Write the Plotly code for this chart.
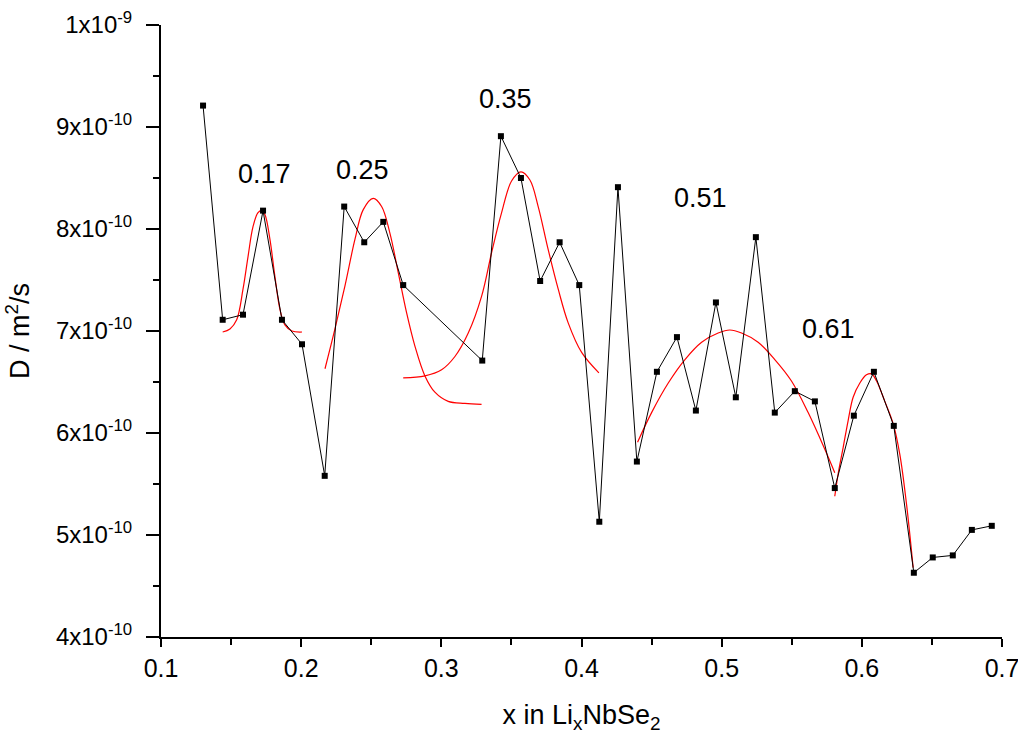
import plotly.graph_objects as go

# Measured diffusion coefficient data
x_data = [0.1300, 0.1440, 0.1585, 0.1728, 0.1863, 0.2006, 0.2168, 0.2307, 0.2450, 0.2586,
          0.2728, 0.3292, 0.3425, 0.3568, 0.3705, 0.3844, 0.3984, 0.4127, 0.4260, 0.4395,
          0.4538, 0.4681, 0.4816, 0.4959, 0.5101, 0.5244, 0.5379, 0.5522, 0.5665, 0.5807,
          0.5943, 0.6086, 0.6228, 0.6371, 0.6506, 0.6649, 0.6785, 0.6927]
d_data = [9.21e-10, 7.11e-10, 7.16e-10, 8.18e-10, 7.11e-10, 6.87e-10, 5.58e-10, 8.22e-10, 7.87e-10, 8.07e-10,
          7.45e-10, 6.71e-10, 8.91e-10, 8.50e-10, 7.49e-10, 7.87e-10, 7.45e-10, 5.13e-10, 8.41e-10, 5.72e-10,
          6.60e-10, 6.94e-10, 6.22e-10, 7.28e-10, 6.35e-10, 7.92e-10, 6.20e-10, 6.41e-10, 6.31e-10, 5.46e-10,
          6.17e-10, 6.60e-10, 6.07e-10, 4.63e-10, 4.78e-10, 4.80e-10, 5.05e-10, 5.09e-10]

# Fitted peak curves
fit017_x = [0.1440, 0.1492, 0.1540, 0.1585, 0.1621, 0.1656, 0.1692, 0.1718, 0.1742, 0.1777,
            0.1813, 0.1849, 0.1884, 0.1934, 0.2006]
fit017_y = [6.99e-10, 7.02e-10, 7.11e-10, 7.41e-10, 7.73e-10, 8.02e-10, 8.16e-10, 8.18e-10, 8.14e-10, 7.90e-10,
            7.53e-10, 7.21e-10, 7.06e-10, 7.00e-10, 6.99e-10]

fit025_x = [0.2170, 0.2241, 0.2312, 0.2384, 0.2443, 0.2514, 0.2574, 0.2633, 0.2693, 0.2752,
            0.2812, 0.2883, 0.2954, 0.3049, 0.3168, 0.3287]
fit025_y = [6.63e-10, 7.02e-10, 7.44e-10, 7.90e-10, 8.19e-10, 8.30e-10, 8.22e-10, 7.96e-10, 7.57e-10, 7.18e-10,
            6.85e-10, 6.56e-10, 6.40e-10, 6.31e-10, 6.29e-10, 6.28e-10]

fit035_x = [0.2728, 0.2883, 0.3002, 0.3097, 0.3192, 0.3287, 0.3359, 0.3430, 0.3501, 0.3568,
            0.3632, 0.3691, 0.3762, 0.3834, 0.3905, 0.4001, 0.4124]
fit035_y = [6.54e-10, 6.56e-10, 6.62e-10, 6.75e-10, 6.98e-10, 7.34e-10, 7.77e-10, 8.16e-10, 8.47e-10, 8.56e-10,
            8.48e-10, 8.22e-10, 7.80e-10, 7.41e-10, 7.08e-10, 6.79e-10, 6.59e-10]

fit051_x = [0.4400, 0.4500, 0.4619, 0.4738, 0.4857, 0.4975, 0.5058, 0.5142, 0.5260, 0.5379,
            0.5498, 0.5617, 0.5736, 0.5807]
fit051_y = [5.91e-10, 6.20e-10, 6.49e-10, 6.72e-10, 6.89e-10, 6.98e-10, 7.01e-10, 6.98e-10, 6.89e-10, 6.72e-10,
            6.51e-10, 6.20e-10, 5.84e-10, 5.61e-10]

fit061_x = [0.5807, 0.5831, 0.5867, 0.5902, 0.5938, 0.5986, 0.6033, 0.6069, 0.6105, 0.6164,
            0.6224, 0.6271, 0.6319, 0.6366]
fit061_y = [5.38e-10, 5.60e-10, 5.86e-10, 6.12e-10, 6.35e-10, 6.49e-10, 6.57e-10, 6.58e-10, 6.51e-10, 6.31e-10,
            6.09e-10, 5.79e-10, 5.30e-10, 4.68e-10]

# Peak labels
peak_labels = ["0.17", "0.25", "0.35", "0.51", "0.61"]
peak_label_x = [0.1735, 0.2440, 0.3455, 0.4850, 0.5760]
peak_label_y = [8.54e-10, 8.58e-10, 9.27e-10, 8.30e-10, 7.02e-10]

# Axis ticks
y_tickvals = [4e-10, 5e-10, 6e-10, 7e-10, 8e-10, 9e-10, 1e-9]
y_ticktext = ["4x10<sup>-10</sup>", "5x10<sup>-10</sup>", "6x10<sup>-10</sup>", "7x10<sup>-10</sup>",
              "8x10<sup>-10</sup>", "9x10<sup>-10</sup>", "1x10<sup>-9</sup>"]
y_minor = [4.5e-10, 5.5e-10, 6.5e-10, 7.5e-10, 8.5e-10, 9.5e-10]
x_tickvals = [0.1, 0.2, 0.3, 0.4, 0.5, 0.6, 0.7]
x_ticktext = ["0.1", "0.2", "0.3", "0.4", "0.5", "0.6", "0.7"]
x_minor = [0.15, 0.25, 0.35, 0.45, 0.55, 0.65]

FONT = "Liberation Sans, Arial, sans-serif"

fig = go.Figure()

for fx, fy in [(fit017_x, fit017_y), (fit025_x, fit025_y), (fit035_x, fit035_y),
               (fit051_x, fit051_y), (fit061_x, fit061_y)]:
    fig.add_trace(go.Scatter(x=fx, y=fy, mode="lines", line=dict(color="#ff0000", width=1.2, shape="spline"),
                             showlegend=False, hoverinfo="skip"))

fig.add_trace(go.Scatter(x=x_data, y=d_data, mode="lines+markers",
                         line=dict(color="black", width=1),
                         marker=dict(symbol="square", size=6, color="black"),
                         showlegend=False))

for t, ax_, ay_ in zip(peak_labels, peak_label_x, peak_label_y):
    fig.add_annotation(x=ax_, y=ay_, text=t, showarrow=False,
                       font=dict(family=FONT, size=27, color="black"))

fig.update_layout(
    width=1018, height=747,
    margin=dict(l=161, r=16, t=25, b=110, autoexpand=False),
    paper_bgcolor="white", plot_bgcolor="white",
    font=dict(family=FONT, color="black"),
    xaxis=dict(range=[0.1, 0.7], tickmode="array", tickvals=x_tickvals, ticktext=x_ticktext,
               automargin=False,
               showgrid=False, zeroline=False, showline=True, linecolor="black", linewidth=2,
               ticks="outside", ticklen=8, tickwidth=2, tickcolor="black",
               tickfont=dict(size=25, family=FONT), ticklabeloverflow="allow",
               minor=dict(tickmode="array", tickvals=x_minor, ticks="outside", ticklen=6, tickwidth=2,
                          tickcolor="black", showgrid=False),
               title=dict(text="x in Li<sub>x</sub>NbSe<sub>2</sub>", font=dict(size=27, family=FONT), standoff=24)),
    yaxis=dict(range=[4e-10, 1e-9], tickmode="array", tickvals=y_tickvals, ticktext=y_ticktext,
               automargin=False,
               showgrid=False, zeroline=False, showline=True, linecolor="black", linewidth=2,
               ticks="outside", ticklen=13, tickwidth=2, tickcolor="black",
               tickfont=dict(size=24, family=FONT), ticklabeloverflow="allow", ticklabelstandoff=9,
               minor=dict(tickmode="array", tickvals=y_minor, ticks="outside", ticklen=6, tickwidth=2,
                          tickcolor="black", showgrid=False),
               title=dict(text="D / m<sup>2</sup>/s", font=dict(size=27, family=FONT), standoff=18)),
)

# remove the default 8px page margin so the 1018x747 figure fills the window exactly
fig.write_html("out.html", config={"displayModeBar": False},
               post_script="document.body.style.margin='0';document.body.style.overflow='hidden';")
